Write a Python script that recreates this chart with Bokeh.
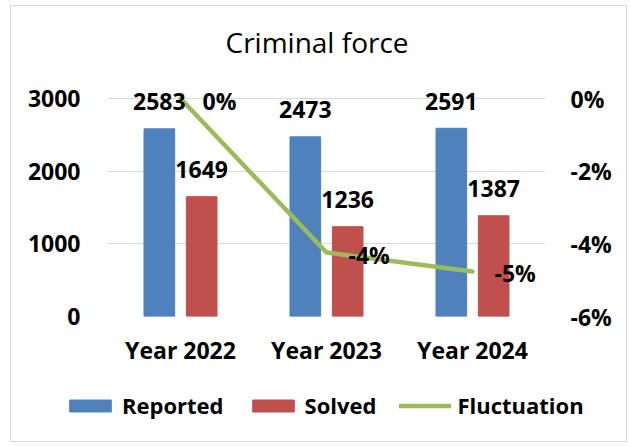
from bokeh.plotting import figure
from bokeh.models import (ColumnDataSource, FactorRange, Range1d, LinearAxis, FixedTicker,
                          PrintfTickFormatter, Legend, LegendItem)
from bokeh.transform import dodge
from bokeh.core.properties import value
from bokeh.embed import file_html
from bokeh.resources import INLINE

# ---- data ----
years = ["Year 2022", "Year 2023", "Year 2024"]
reported = [2583, 2473, 2591]
solved = [1649, 1236, 1387]
fluctuation = [0.0, -4.24, -4.76]          # percent
fluct_labels = ["0%", "-4%", "-5%"]
series_names = ["Reported", "Solved", "Fluctuation"]
left_ticks = [0, 1000, 2000, 3000]
right_ticks = [-6, -4, -2, 0]

FONT = "Open Sans"
BLUE = "#4F81BD"
RED = "#C0504D"
GREEN = "#9BBB59"
BORDER = "1px solid #d9d9d9"

src = ColumnDataSource(dict(
    years=years, reported=reported, solved=solved, fl=fluctuation,
    fl_lab=fluct_labels,
    rep_lab=[str(v) for v in reported],
    sol_lab=[str(v) for v in solved],
))

# left range 0..3400 (headroom for labels); right range scaled to keep 0% on the 3000 line
p = figure(
    x_range=FactorRange(factors=years, range_padding=0),
    y_range=Range1d(0, 3400),
    width=617, height=370,
    output_backend="svg", toolbar_location=None,
    min_border_left=96, min_border_right=83, min_border_top=63, min_border_bottom=60,
    title="Criminal force",
    styles={"margin-left": "10px", "margin-top": "5px", "border": BORDER,
            "border-bottom": "none"},
)
p.background_fill_color = "white"
p.border_fill_color = "white"
p.outline_line_color = None

p.title.text_font = FONT
p.title.text_font_size = "28px"
p.title.text_font_style = "normal"
p.title.text_color = "black"
p.title.align = "left"
p.title.offset = 118
p.title.standoff = 18

p.extra_y_ranges = {"pct": Range1d(-6, 0.8)}

bar_w = 0.21


def draw_series(fig, line_range):
    a = fig.vbar(x=dodge("years", -0.145, range=fig.x_range), top="reported", width=bar_w,
                 source=src, fill_color=BLUE, line_color=BLUE)
    b = fig.vbar(x=dodge("years", 0.145, range=fig.x_range), top="solved", width=bar_w,
                 source=src, fill_color=RED, line_color=RED)
    c = fig.line(x="years", y="fl", y_range_name=line_range, source=src, line_color=GREEN,
                 line_width=4.5, line_join="round", line_cap="round")
    return a, b, c


draw_series(p, "pct")

lab_kw = dict(text_font=value(FONT), text_font_size="23px", text_font_style="bold",
              text_color="black", text_baseline="middle", source=src)
p.text(x=dodge("years", -0.145, range=p.x_range), y="reported", text="rep_lab",
       y_offset=-27, text_align="center", **lab_kw)
p.text(x=dodge("years", 0.145, range=p.x_range), y="solved", text="sol_lab",
       y_offset=-27, text_align="center", **lab_kw)
p.text(x="years", y="fl", y_range_name="pct", text="fl_lab",
       x_offset=22, y_offset=2, text_align="left", **lab_kw)


# axes
def style_axis(ax):
    ax.axis_line_color = None
    ax.major_tick_line_color = None
    ax.minor_tick_line_color = None
    ax.major_label_text_font = FONT
    ax.major_label_text_font_size = "23px"
    ax.major_label_text_font_style = "bold"
    ax.major_label_text_color = "black"


yax = p.yaxis[0]
yax.ticker = FixedTicker(ticks=left_ticks)
style_axis(yax)
yax.major_label_standoff = 21

rax = LinearAxis(y_range_name="pct", ticker=FixedTicker(ticks=right_ticks),
                 formatter=PrintfTickFormatter(format="%d%%"))
style_axis(rax)
rax.major_label_standoff = 19
p.add_layout(rax, "right")

xax = p.xaxis[0]
style_axis(xax)
xax.major_label_standoff = 11

p.xgrid.visible = False
p.ygrid.ticker = FixedTicker(ticks=left_ticks)
p.ygrid.grid_line_color = "#d9d9d9"
p.ygrid.grid_line_width = 1

# ---- legend strip: second canvas under the chart; its ranges keep the series out of view,
# so only the legend (which needs the same glyphs) shows ----
q = figure(width=617, height=67, output_backend="svg", toolbar_location=None,
           x_range=FactorRange(factors=years, range_padding=0),
           y_range=Range1d(10000, 10001),
           x_axis_type=None, y_axis_type=None,
           min_border_left=0, min_border_right=0, min_border_top=0, min_border_bottom=0,
           styles={"margin-left": "10px", "border": BORDER, "border-top": "none"})
q.outline_line_color = None
q.background_fill_color = "white"
q.border_fill_color = "white"
q.extra_y_ranges = {"hidden": Range1d(10000, 10001)}
l_rep, l_sol, l_fl = draw_series(q, "hidden")

legend = Legend(
    items=[LegendItem(label=series_names[0], renderers=[l_rep]),
           LegendItem(label=series_names[1], renderers=[l_sol]),
           LegendItem(label=series_names[2], renderers=[l_fl])],
    orientation="horizontal", location=(53, 22),
    border_line_color=None, background_fill_alpha=0, padding=0, margin=0,
    spacing=23, glyph_width=52, glyph_height=15, label_standoff=6,
    label_text_font=FONT, label_text_font_size="22px", label_text_font_style="bold",
    label_text_color="black",
)
q.add_layout(legend)

open("out.html", "w").write(file_html([p, q], INLINE))
